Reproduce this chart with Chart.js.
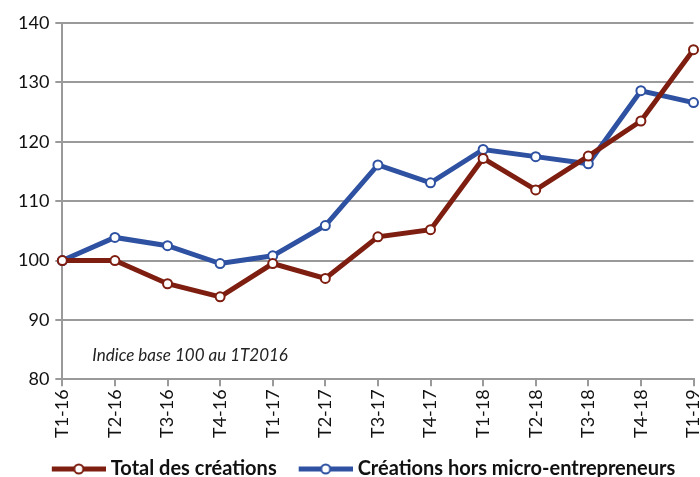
<!DOCTYPE html>
<html>
<head>
<meta charset="utf-8">
<script src="https://cdn.jsdelivr.net/npm/chart.js@4/dist/chart.umd.min.js"></script>
<style>
  html, body { margin: 0; padding: 0; background: #fff; }
  #wrap { width: 700px; height: 477px; }
</style>
</head>
<body>
<div id="wrap"><canvas id="indexChart"></canvas></div>
<script>
const QUARTERS = ['T1-16', 'T2-16', 'T3-16', 'T4-16', 'T1-17', 'T2-17', 'T3-17', 'T4-17', 'T1-18', 'T2-18', 'T3-18', 'T4-18', 'T1-19'];
const TOTAL = [100, 100, 96.1, 93.9, 99.5, 97.0, 104.0, 105.2, 117.2, 111.9, 117.6, 123.5, 135.5];
const HORS_MICRO = [100, 103.9, 102.5, 99.5, 100.8, 105.9, 116.1, 113.1, 118.7, 117.5, 116.3, 128.6, 126.6];
const Y_MIN = 80;
const Y_MAX = 140;
const NOTE = 'Indice base 100 au 1T2016';

const RED = '#7e1e10';
const BLUE = '#2e51a1';
const GRID = '#9a9a9a';
const FONT = 'Lato, "Open Sans", sans-serif';

// legend swatch: thick line with a hollow circle, transparent margin on the left as item gap
function legendSwatch(color) {
    const c = document.createElement('canvas');
    c.width = 80;
    c.height = 14;
    const ctx = c.getContext('2d');
    ctx.strokeStyle = color;
    ctx.lineWidth = 5;
    ctx.beginPath();
    ctx.moveTo(26, 7);
    ctx.lineTo(80, 7);
    ctx.stroke();
    ctx.beginPath();
    ctx.arc(53, 7, 4.5, 0, Math.PI * 2);
    ctx.fillStyle = '#fff';
    ctx.fill();
    ctx.lineWidth = 2;
    ctx.stroke();
    return c;
}

const notePlugin = {
    id: 'note',
    afterDraw(chart) {
        const ctx = chart.ctx;
        const area = chart.chartArea;
        ctx.save();
        ctx.font = 'italic 17px ' + FONT;
        ctx.fillStyle = '#222';
        ctx.textBaseline = 'middle';
        ctx.fillText(NOTE, area.left + 30, area.bottom - 24);
        ctx.restore();
    }
};

const data = {
    labels: QUARTERS,
    datasets: [{
        label: 'Total des créations',
        data: TOTAL,
        borderColor: RED,
        backgroundColor: '#fff',
        borderWidth: 5,
        pointRadius: 4.5,
        pointBorderWidth: 2,
        pointBackgroundColor: '#fff',
        pointBorderColor: RED,
        tension: 0
    },
    {
        label: 'Créations hors micro-entrepreneurs',
        data: HORS_MICRO,
        borderColor: BLUE,
        backgroundColor: '#fff',
        borderWidth: 5,
        pointRadius: 4.5,
        pointBorderWidth: 2,
        pointBackgroundColor: '#fff',
        pointBorderColor: BLUE,
        tension: 0
    }]
};

const swatches = [legendSwatch(RED), legendSwatch(BLUE)];

const config = {
    type: 'line',
    data: data,
    options: {
        responsive: true,
        maintainAspectRatio: false,
        animation: false,
        layout: { padding: { top: 23, right: 6, left: 12, bottom: -12 } },
        plugins: {
            tooltip: { enabled: false },
            legend: {
                position: 'bottom',
                labels: {
                    usePointStyle: true,
                    pointStyleWidth: 70,
                    padding: 1,
                    color: '#111',
                    font: { family: FONT, size: 20, weight: 'bold' },
                    generateLabels(chart) {
                        return chart.data.datasets.map((ds, i) => ({
                            text: ds.label,
                            datasetIndex: i,
                            pointStyle: swatches[i],
                            fillStyle: ds.borderColor,
                            strokeStyle: ds.borderColor,
                            lineWidth: 0,
                            fontColor: '#111'
                        }));
                    }
                }
            }
        },
        scales: {
            x: {
                offset: false,
                afterFit(scale) {
                    scale.paddingRight = 0;
                    scale.paddingLeft = 0;
                    scale.height += 17;
                },
                grid: {
                    color: 'transparent',
                    tickColor: GRID,
                    tickLength: 7,
                    lineWidth: 2
                },
                border: { color: GRID, width: 2 },
                ticks: {
                    minRotation: 90,
                    maxRotation: 90,
                    color: '#111',
                    padding: 3,
                    font: { family: FONT, size: 18 }
                }
            },
            y: {
                min: Y_MIN,
                max: Y_MAX,
                grid: {
                    color: GRID,
                    lineWidth: 2,
                    tickLength: 7
                },
                border: { color: GRID, width: 2 },
                ticks: {
                    stepSize: 10,
                    color: '#111',
                    padding: 6,
                    font: { family: FONT, size: 18 }
                }
            }
        }
    },
    plugins: [notePlugin]
};

const indexChart = new Chart(document.getElementById('indexChart'), config);
</script>
</body>
</html>
